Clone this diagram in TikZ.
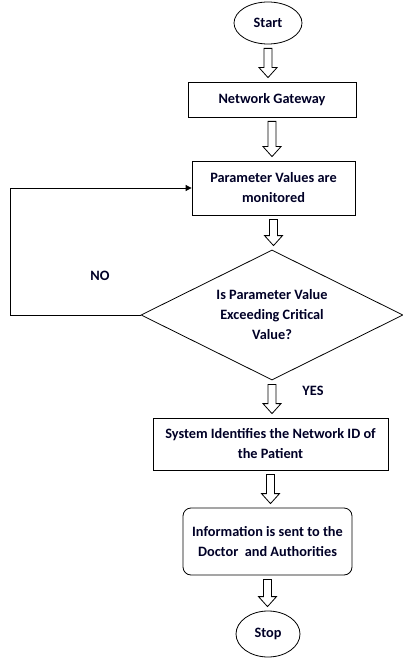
\documentclass[tikz,border=0pt]{standalone}
\usepackage{fontspec}
\setmainfont{Carlito}
\usetikzlibrary{arrows.meta,calc,positioning,shapes.geometric}

\begin{document}
\begin{tikzpicture}
	[x=1pt,y=-1pt,line width=0.8pt,
	every node/.style={font=\fontsize{14.3}{20}\selectfont\bfseries,text=black!85!blue},
	terminal/.style={shape=ellipse,draw,inner sep=0pt},
	process/.style={shape=rectangle,draw,align=center,inner sep=0pt},
	decision/.style={shape=diamond,draw,inner sep=0pt,minimum width=262pt,minimum height=130pt},
	hollow/.style={to path={
		let \p1=($(\tikztostart.south)+(0,-4pt)$), \p2=($(\tikztotarget.north)+(0,4pt)$) in
		(\x1-4pt,\y1) -- (\x1-4pt,\y2+10pt) -- (\x1-9pt,\y2+10pt) -- (\x1,\y2)
		-- (\x1+9pt,\y2+10pt) -- (\x1+4pt,\y2+10pt) -- (\x1+4pt,\y1) -- cycle}}]
	\useasboundingbox (0,0) rectangle (403,660);
	
	\node [terminal,minimum width=68pt,minimum height=42pt] (start) at (268,23) {Start};
	\node [process,minimum width=168pt,minimum height=35pt] (gate) at (272,99.5) {Network Gateway};
	\node [process,minimum width=163pt,minimum height=54pt] (param) at (273.5,188) {Parameter Values are\\monitored};
	\node [decision,label={[align=center]center:Is Parameter Value\\Exceeding Critical\\Value?}] (check) at (272,315) {};
	\node [process,minimum width=235pt,minimum height=52pt] (ident) at (270.5,444) {System Identifies the Network ID of\\the Patient};
	\node [process,rounded corners=8pt,minimum width=169pt,minimum height=67pt] (info) at (267.5,541.5) {Information is sent to the\\Doctor\ \ and Authorities};
	\node [terminal,minimum width=64pt,minimum height=46pt] (stop) at (268,634) {Stop};
	
	\node (no) at (100,276) {NO};
	\node (yes) at (313,391) {YES};
	
	\path[draw]
	(start) to [hollow] (gate)
	(gate) to [hollow] (param)
	(param) to [hollow] (check)
	(check) to [hollow] (ident)
	(ident) to [hollow] (info)
	(info) to [hollow] (stop);
	
	\draw [-{Triangle[length=6pt,width=6pt]}] (check.west) -- (10,315) |- (param.west);
\end{tikzpicture}
\end{document}
